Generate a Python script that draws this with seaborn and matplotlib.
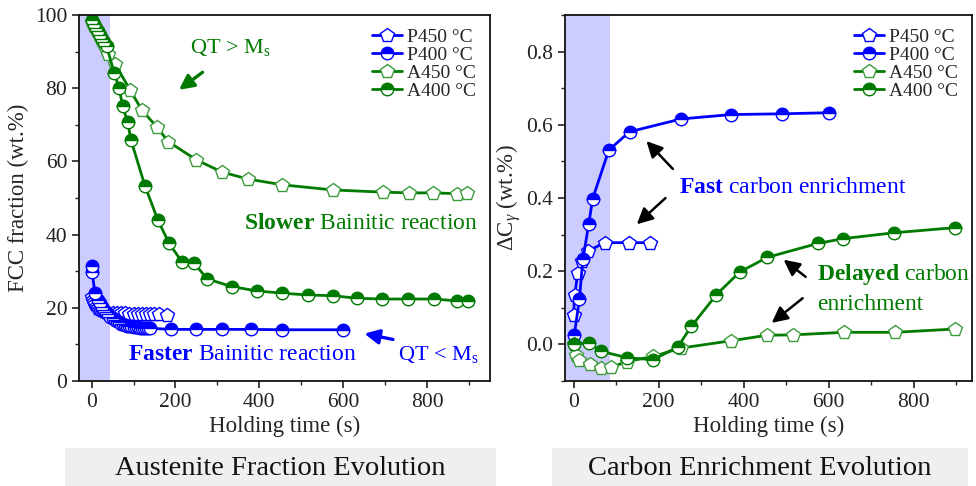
import numpy as np
import pandas as pd
import seaborn as sns
import matplotlib
matplotlib.use("Agg")
import matplotlib.pyplot as plt
from matplotlib.patches import Rectangle
from matplotlib.ticker import AutoMinorLocator, MultipleLocator

# ---------------- data: left panel (FCC fraction, wt.%) ----------------
a450_t = [0, 3, 6, 10, 14, 18, 23, 28, 34, 40, 56, 92, 120, 155, 183, 250, 311, 372, 455, 575, 696, 756, 813, 872, 896]
a450_v = [98, 97.6, 97, 96.3, 95.5, 94.6, 93.5, 92.3, 90.8, 89.3, 86.6, 79.5, 74, 69.5, 65.4, 60.4, 57.1, 55.2, 53.6, 52.2, 51.6, 51.4, 51.4, 51.2, 51.4]

a400_t = [0, 5, 10, 15, 20, 25, 30, 36, 54, 66, 74, 86, 94, 127, 158, 185, 215, 244, 276, 334, 395, 455, 515, 576, 633, 693, 754, 816, 872, 897]
a400_v = [98.5, 97.5, 96.5, 95.5, 94.5, 93.5, 92.5, 91.5, 84.1, 80, 75, 70.8, 65.8, 53.4, 44, 37.6, 32.6, 32.2, 27.9, 25.8, 24.6, 24, 23.5, 23.3, 22.6, 22.4, 22.4, 22.4, 21.9, 21.9]

p450_t = [0, 3, 6, 9, 12, 15, 20, 25, 30, 35, 40, 50, 60, 70, 80, 90, 100, 110, 120, 130, 140, 150, 160, 180]
p450_v = [23, 22, 21.5, 21, 20.5, 20, 19.6, 19.3, 19, 18.8, 18.7, 18.6, 18.6, 18.5, 18.5, 18.4, 18.4, 18.4, 18.3, 18.3, 18.3, 18.2, 18.2, 18.1]

p400_t = [0, 1, 8, 16, 20, 25, 30, 35, 40, 45, 50, 55, 60, 65, 70, 75, 80, 85, 90, 95, 100, 105, 110, 115, 120, 125, 130, 135, 140, 190, 250, 310, 380, 455, 600]
p400_v = [31.5, 29.8, 24.1, 22.1, 21.2, 20.3, 19.5, 18.8, 18.2, 17.6, 17.1, 16.7, 16.3, 16.0, 15.7, 15.5, 15.3, 15.1, 15.0, 14.9, 14.8, 14.7, 14.7, 14.6, 14.6, 14.5, 14.5, 14.5, 14.4, 14.1, 14.1, 14.1, 14.1, 14.0, 14.0]

# ---------------- data: right panel (carbon enrichment, wt.%) ----------------
cp450_t = [0, 3, 10, 20, 34, 73, 130, 180]
cp450_v = [0.081, 0.136, 0.195, 0.227, 0.255, 0.278, 0.278, 0.278]

cp400_t = [2, 14, 22, 36, 45, 83, 132, 253, 371, 490, 600]
cp400_v = [0.027, 0.125, 0.232, 0.33, 0.398, 0.531, 0.581, 0.616, 0.628, 0.630, 0.633]

ca450_t = [0, 6, 14, 38, 65, 88, 125, 187, 253, 371, 455, 515, 636, 756, 897]
ca450_v = [0.0, -0.028, -0.042, -0.054, -0.065, -0.063, -0.047, -0.033, -0.01, 0.01, 0.025, 0.026, 0.033, 0.033, 0.042]

ca400_t = [2, 36, 65, 125, 187, 245, 277, 336, 391, 456, 575, 634, 754, 897]
ca400_v = [0.001, 0.004, -0.019, -0.036, -0.042, -0.007, 0.049, 0.136, 0.198, 0.238, 0.276, 0.289, 0.305, 0.319]

labels = ["P450 °C", "P400 °C", "A450 °C", "A400 °C"]
titles = ["Austenite Fraction Evolution", "Carbon Enrichment Evolution"]

BLUE = "#0000ff"
GREEN = "#007a00"
GREEN_L = "#3c9c3c"
SHADE = "#ccccff"

sns.set_style("ticks")
plt.rcParams["font.family"] = ["Liberation Serif", "DejaVu Serif"]
plt.rcParams["mathtext.fontset"] = "custom"
plt.rcParams["mathtext.rm"] = "Liberation Serif"
plt.rcParams["mathtext.it"] = "Liberation Serif:italic"
plt.rcParams["mathtext.bf"] = "Liberation Serif:bold"

fig = plt.figure(figsize=(9.76, 4.86), dpi=100)
ax1 = fig.add_axes([79 / 976, 1 - 381 / 486, 411 / 976, 366 / 486])
ax2 = fig.add_axes([565 / 976, 1 - 381 / 486, 407 / 976, 366 / 486])


def draw(ax, t, v, color, kind, label, lc=None):
    df = pd.DataFrame({"t": t, "v": v})
    if kind == "open":
        kw = dict(marker="p", markersize=10, markerfacecolor="white",
                  markeredgecolor=color, markeredgewidth=1.0)
    else:
        kw = dict(marker="o", markersize=9, fillstyle="top",
                  markerfacecolor=color, markerfacecoloralt="white",
                  markeredgecolor=color, markeredgewidth=1.0)
    sns.lineplot(data=df, x="t", y="v", ax=ax, color=lc or color, lw=2,
                 estimator=None, sort=False, label=label, **kw)


for ax in (ax1, ax2):
    ax.axvspan(-40, 44 if ax is ax1 else 86, color=SHADE, lw=0, zorder=0)

draw(ax1, p450_t, p450_v, BLUE, "open", labels[0])
draw(ax1, p400_t, p400_v, BLUE, "half", labels[1])
draw(ax1, a450_t, a450_v, GREEN_L, "open", labels[2], lc=GREEN)
draw(ax1, a400_t, a400_v, GREEN, "half", labels[3])

draw(ax2, cp450_t, cp450_v, BLUE, "open", labels[0])
draw(ax2, cp400_t, cp400_v, BLUE, "half", labels[1])
draw(ax2, ca450_t, ca450_v, GREEN_L, "open", labels[2], lc=GREEN)
draw(ax2, ca400_t, ca400_v, GREEN, "half", labels[3])

ax1.set_xlim(-30, 950)
ax1.set_ylim(0, 100)
ax2.set_xlim(-20, 937)
ax2.set_ylim(-0.1, 0.9)
ax1.yaxis.set_major_locator(MultipleLocator(20))
ax2.yaxis.set_major_locator(MultipleLocator(0.2))
for ax in (ax1, ax2):
    ax.xaxis.set_major_locator(MultipleLocator(200))
    ax.xaxis.set_minor_locator(AutoMinorLocator(2))
    ax.yaxis.set_minor_locator(AutoMinorLocator(2))
    ax.tick_params(which="major", direction="out", length=5, width=1.2, labelsize=15.5, colors="#222222")
    ax.tick_params(which="minor", direction="out", length=3, width=1.0)
    for s in ax.spines.values():
        s.set_linewidth(1.3)
        s.set_color("#111111")
    ax.set_xlabel("Holding time (s)", fontsize=16.5, labelpad=3)
    ax.legend(loc="upper right", frameon=False, fontsize=14, handlelength=1.5,
              labelspacing=0.02, handletextpad=0.3, borderaxespad=0.3)

ax1.set_ylabel("FCC fraction (wt.%)", fontsize=16.5, labelpad=4)
ax2.set_ylabel(r"ΔC$_\gamma$ (wt.%)", fontsize=16.5, labelpad=2)
ax2.yaxis.set_major_formatter(matplotlib.ticker.FormatStrFormatter("%.1f"))

# ---------------- annotations: left ----------------
ax1.text(330, 91, r"QT > M$_\mathrm{s}$", color=GREEN, fontsize=16, ha="center", va="center")
ax1.annotate("", xy=(203, 79.1), xytext=(270, 84.8),
             arrowprops=dict(arrowstyle="-|>", color=GREEN, lw=2.4, mutation_scale=22))
ax1.text(922, 42.9, r"$\mathbf{Slower}$ Bainitic reaction", color=GREEN, fontsize=17,
         ha="right", va="center")
ax1.text(87, 7.2, r"$\mathbf{Faster}$ Bainitic reaction", color=BLUE, fontsize=17,
         ha="left", va="center")
ax1.text(730, 7.2, r"QT < M$_\mathrm{s}$", color=BLUE, fontsize=16, ha="left", va="center")
ax1.annotate("", xy=(644, 13.1), xytext=(725, 11.2),
             arrowprops=dict(arrowstyle="-|>", color=BLUE, lw=2.4, mutation_scale=22))

# ---------------- annotations: right ----------------
ax2.text(247, 0.43, r"$\mathbf{Fast}$ carbon enrichment", color=BLUE, fontsize=17,
         ha="left", va="center")
arrow_k = dict(arrowstyle="-|>", color="black", lw=1.8, mutation_scale=24)
ax2.annotate("", xy=(167, 0.561), xytext=(238, 0.474), arrowprops=arrow_k)
ax2.annotate("", xy=(144, 0.323), xytext=(221, 0.405), arrowprops=arrow_k)
ax2.text(572, 0.192, r"$\mathbf{Delayed}$ carbon", color=GREEN, fontsize=17, ha="left", va="center")
ax2.text(572, 0.11, "enrichment", color=GREEN, fontsize=17, ha="left", va="center")
ax2.annotate("", xy=(489, 0.236), xytext=(551, 0.18), arrowprops=arrow_k)
ax2.annotate("", xy=(461, 0.054), xytext=(544, 0.131), arrowprops=arrow_k)

# ---------------- bottom title boxes ----------------
for (x0, x1), title in zip([(65, 496), (552, 968)], titles):
    fig.patches.append(Rectangle((x0 / 976, 0), (x1 - x0) / 976, 38 / 486,
                                 transform=fig.transFigure, facecolor="#efefef",
                                 edgecolor="none", zorder=0))
    fig.text((x0 + x1) / 2 / 976, 18 / 486, title, ha="center", va="center", fontsize=20.5,
             color="#111111")

fig.savefig("out.png", dpi=100)
